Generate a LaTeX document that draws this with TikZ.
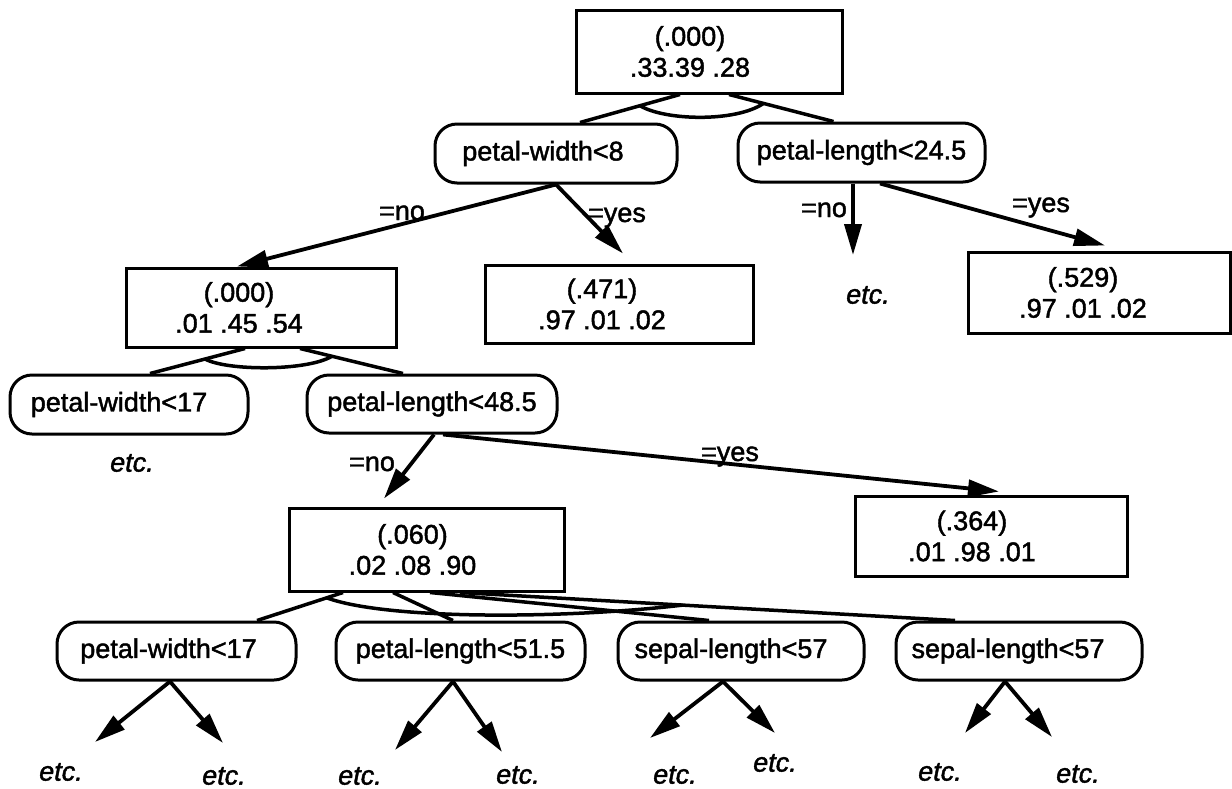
\documentclass[tikz,border=0pt]{standalone}
\usepackage{fontspec}
\setmainfont{Liberation Sans}[FakeBold=1.6]
\usetikzlibrary{arrows.meta,calc}
\begin{document}
\begin{tikzpicture}[x=1pt,y=-1pt,
  every node/.style={font=\fontsize{27pt}{31pt}\selectfont, inner sep=0pt},
  leaf/.style={draw, line width=3pt, rectangle, align=center},
  test/.style={draw, line width=3pt, rectangle, rounded corners=22pt, align=center},
  lbl/.style={anchor=base},
  etcl/.style={font=\fontsize{27pt}{31pt}\selectfont\itshape},
  conn/.style={line width=3.5pt},
  arr/.style={line width=3.8pt, -{Triangle[length=31pt,width=17pt]}},
]
\fill[white] (0,0) rectangle (1232,788);
\useasboundingbox (0,0) rectangle (1232,788);

% boxes
\node[leaf, minimum width=266pt, minimum height=83pt] (root) at (709,51.5) {(.000)\kern38pt\\.33.39 .28\kern38pt};
\node[test, minimum width=242pt, minimum height=59pt] (pw8) at (556,153.5) {petal-width<8\kern26pt};
\node[test, minimum width=247pt, minimum height=59pt] (pl245) at (861.5,152.5) {petal-length<24.5};
\node[leaf, minimum width=270pt, minimum height=79pt] (n000b) at (261,307.5) {(.000)\kern44pt\\.01 .45 .54\kern44pt};
\node[leaf, minimum width=268pt, minimum height=78pt] (n471) at (619,304) {(.471)\kern34pt\\.97 .01 .02\kern34pt};
\node[etcl] (etc1) at (868,295) {etc.};
\node[leaf, minimum width=262pt, minimum height=81pt] (n529) at (1099,292.5) {(.529)\kern32pt\\.97 .01 .02\kern32pt};
\node[test, minimum width=238pt, minimum height=59pt] (pw17) at (129,404.5) {petal-width<17\kern20pt};
\node[test, minimum width=250pt, minimum height=58pt] (pl485) at (432,404) {petal-length<48.5};
\node[etcl] (etc2) at (132,463) {etc.};
\node[leaf, minimum width=275pt, minimum height=83pt] (n060) at (426.5,549.5) {(.060)\kern28pt\\.02 .08 .90\kern28pt};
\node[leaf, minimum width=272pt, minimum height=80pt] (n364) at (991,536) {(.364)\kern38pt\\.01 .98 .01\kern38pt};
\node[test, minimum width=239pt, minimum height=58pt] (pw17b) at (176.5,651) {petal-width<17\kern16pt};
\node[test, minimum width=249pt, minimum height=58pt] (pl515) at (460.5,651) {petal-length<51.5};
\node[test, minimum width=246pt, minimum height=58pt] (sl57a) at (741,651) {sepal-length<57\kern20pt};
\node[test, minimum width=246pt, minimum height=58pt] (sl57b) at (1019,651) {sepal-length<57\kern22pt};

% etc. leaves
\node[etcl] (e1) at (61,772) {etc.};
\node[etcl] (e2) at (224,776) {etc.};
\node[etcl] (e3) at (360,776) {etc.};
\node[etcl] (e4) at (518,775) {etc.};
\node[etcl] (e5) at (675,775) {etc.};
\node[etcl] (e6) at (775,763) {etc.};
\node[etcl] (e7) at (940,772) {etc.};
\node[etcl] (e8) at (1078,774) {etc.};

% edge labels
\node[lbl] (no1) at (402,220) {=no};
\node[lbl] (yes1) at (617,222) {=yes};
\node[lbl] (no2) at (824,217) {=no};
\node[lbl] (yes2) at (1041,212) {=yes};
\node[lbl] (no3) at (372,471) {=no};
\node[lbl] (yes3) at (730,461) {=yes};

% root fan
\draw[conn] ([xshift=-29pt]root.south) coordinate (r1) -- ([xshift=24pt]pw8.north) coordinate (r2);
\draw[conn] ([xshift=20pt]root.south) coordinate (r3) -- ([xshift=-28pt]pl245.north) coordinate (r4);
\draw[conn] ($(r1)!0.4!(r2)$) .. controls +(25,15) and +(-28,19) .. ($(r3)!0.33!(r4)$);

% pw8 arrows
\draw[arr] (pw8.south) -- ([xshift=-24pt]n000b.north);
\draw[arr] (pw8.south) -- ([xshift=4pt,yshift=10pt]n471.north);

% pl245 arrows
\draw[arr] ([xshift=-8.5pt]pl245.south) -- ([xshift=-15pt,yshift=40pt]etc1.center);
\draw[arr] ([xshift=18.5pt]pl245.south) -- ([xshift=6pt,yshift=5pt]n529.north);

% n000b fan
\draw[conn] ([xshift=-16pt]n000b.south) coordinate (a1) -- ([xshift=21pt]pw17.north) coordinate (a2);
\draw[conn] ([xshift=39pt]n000b.south) coordinate (a3) -- ([xshift=-29pt]pl485.north) coordinate (a4);
\draw[conn] ($(a1)!0.42!(a2)$) .. controls +(22,12) and +(-25,15) .. ($(a3)!0.31!(a4)$);

% pl485 arrows
\draw[arr] ([xshift=2pt]pl485.south) -- ([xshift=-42.5pt,yshift=8pt]n060.north);
\draw[arr] ([xshift=11pt]pl485.south) -- ([xshift=8pt,yshift=3pt]n364.north);

% n060 fan
\draw[conn] ([xshift=-83.5pt]n060.south) coordinate (b1) -- ([xshift=80.5pt]pw17b.north) coordinate (b2);
\draw[conn] ([xshift=-33.5pt]n060.south) -- ([xshift=-7.5pt]pl515.north);
\draw[conn] ([xshift=3.5pt]n060.south) -- ([xshift=-32pt]sl57a.north);
\draw[conn] ([xshift=33.5pt]n060.south) coordinate (b3) -- ([xshift=-64pt]sl57b.north) coordinate (b4);
\draw[conn] ($(b1)!0.19!(b2)$) .. controls +(60,22) and +(-120,14) .. ($(b3)!0.45!(b4)$);

% bottom arrows
\draw[arr] ([xshift=-6.5pt]pw17b.south) -- ([xshift=34pt,yshift=30pt]e1.center);
\draw[arr] ([xshift=-6.5pt]pw17b.south) -- ([xshift=-1pt,yshift=33pt]e2.center);
\draw[arr] ([xshift=-7.5pt]pl515.south) -- ([xshift=35pt,yshift=26pt]e3.center);
\draw[arr] ([xshift=-7.5pt]pl515.south) -- ([xshift=-16pt,yshift=23pt]e4.center);
\draw[arr] ([xshift=-18pt]sl57a.south) -- ([xshift=-25pt,yshift=37pt]e5.center);
\draw[arr] ([xshift=-18pt]sl57a.south) -- ([xshift=0pt,yshift=30pt]e6.center);
\draw[arr] ([xshift=-14pt]sl57b.south) -- ([xshift=25pt,yshift=39pt]e7.center);
\draw[arr] ([xshift=-14pt]sl57b.south) -- ([xshift=-26pt,yshift=37pt]e8.center);
\end{tikzpicture}
\end{document}
